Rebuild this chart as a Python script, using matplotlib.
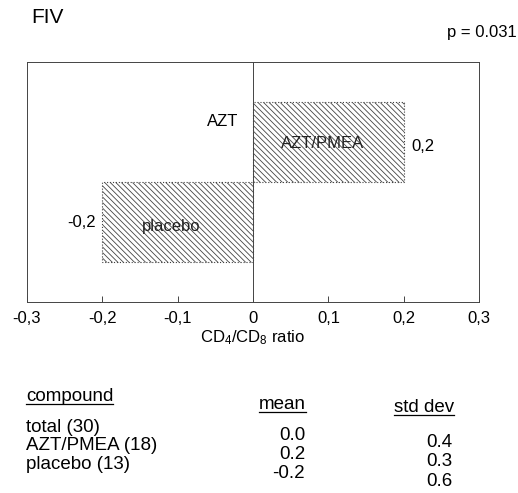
import matplotlib
matplotlib.use('Agg')
import matplotlib.pyplot as plt

plt.rcParams['font.family'] = ['Liberation Sans', 'DejaVu Sans']
plt.rcParams['mathtext.default'] = 'regular'
plt.rcParams['hatch.color'] = '#555555'
plt.rcParams['hatch.linewidth'] = 0.6

# data
groups = ['AZT/PMEA', 'placebo']
group_pos = [1, 0]
mean_ratio = [0.2, -0.2]
value_text = ['0,2', '-0,2']
xticks = [-0.3, -0.2, -0.1, 0, 0.1, 0.2, 0.3]
xtick_labels = ['-0,3', '-0,2', '-0,1', '0', '0,1', '0,2', '0,3']

tbl_names = ['total (30)', 'AZT/PMEA (18)', 'placebo (13)']
tbl_mean = ['0.0', '0.2', '-0.2']
tbl_sd = ['0.4', '0.3', '0.6']

fig = plt.figure(figsize=(5.18, 4.93), dpi=100)
ax = fig.add_axes([0.052, 0.387, 0.873, 0.487])

ax.barh(group_pos, mean_ratio, height=1.0, left=0, color='white',
        edgecolor='#444444', linewidth=0.8, linestyle=':', hatch='\\' * 6)

ax.axvline(0, color='#444444', lw=0.7)
ax.set_xlim(-0.3, 0.3)
ax.set_ylim(-1, 2)
ax.set_xticks(xticks)
ax.set_xticklabels(xtick_labels, fontsize=12)
ax.set_yticks([])
ax.tick_params(axis='x', direction='in', length=4, width=0.7, color='#444444', pad=6)
for s in ax.spines.values():
    s.set_color('#444444')
    s.set_linewidth(0.7)
ax.set_xlabel(r'CD$_4$/CD$_8$ ratio', fontsize=12, labelpad=2)

# bar labels
for p, v, name, vt in zip(group_pos, mean_ratio, groups, value_text):
    ax.text(v / 2 - 0.008, p - 0.02 if v > 0 else p - 0.06, name, ha='center', va='center',
            fontsize=12, color='#222222')
    if v > 0:
        ax.text(v + 0.01, p - 0.06, vt, ha='left', va='center', fontsize=12)
    else:
        ax.text(v - 0.008, p, vt, ha='right', va='center', fontsize=12)
ax.text(-0.019, 1.26, 'AZT', ha='right', va='center', fontsize=12)

# title and p value
fig.text(0.06, 0.965, 'FIV', fontsize=15, va='center', ha='left')
fig.text(0.998, 0.935, 'p = 0.031', fontsize=12, va='center', ha='right')

# summary table (baselines in pixels from top)
fs = 13.5
hdr = [(0.05, 401, 'compound', 'left'), (0.591, 409, 'mean', 'right'),
       (0.876, 412, 'std dev', 'right')]
fig.canvas.draw()
r = fig.canvas.get_renderer()
for x, ypx, s, ha in hdr:
    t = fig.text(x, 1 - ypx / 493, s, fontsize=fs, ha=ha, va='baseline')
    bb = t.get_window_extent(renderer=r)
    yl = 1 - (ypx + 2.5) / 493
    fig.add_artist(plt.Line2D([bb.x0 / 518, bb.x1 / 518], [yl, yl],
                              color='black', lw=0.9))

for i, (n, m, sd) in enumerate(zip(tbl_names, tbl_mean, tbl_sd)):
    fig.text(0.05, 1 - (432 + 18.5 * i) / 493, n, fontsize=fs, va='baseline')
    fig.text(0.589, 1 - (440 + 19 * i) / 493, m, fontsize=fs, va='baseline', ha='right')
    fig.text(0.874, 1 - (447 + 19.5 * i) / 493, sd, fontsize=fs, va='baseline', ha='right')

fig.savefig('out.png', dpi=100)
